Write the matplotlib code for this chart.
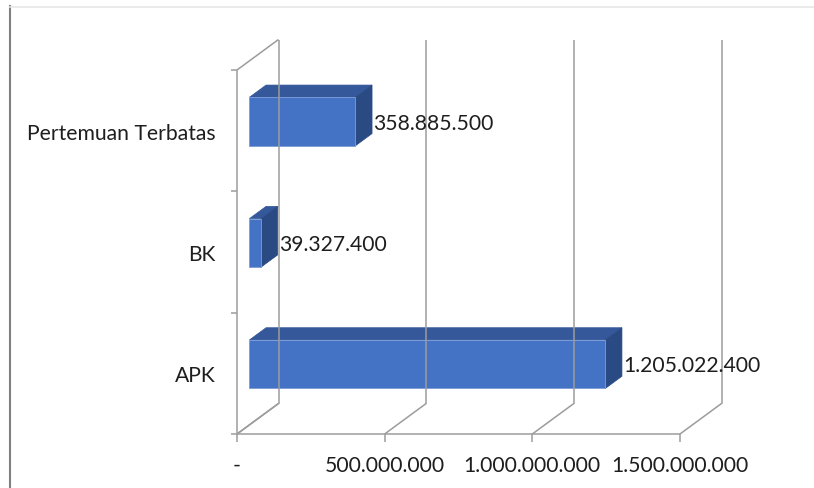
import matplotlib.pyplot as plt
from matplotlib.patches import Polygon

categories = ["APK", "BK", "Pertemuan Terbatas"]
values = [1205022400, 39327400, 358885500]
x_ticks = [0, 500000000, 1000000000, 1500000000]
x_tick_labels = ["-", "500.000.000", "1.000.000.000", "1.500.000.000"]

# simple oblique projection for the 3D bar look
X0, Y0 = 237, 435
PX_PER_UNIT = (680 - 237) / 1.5e9
BAND = (435 - 71) / 3
DEPTH_DX, DEPTH_DY = 41.5, 30.5


def proj(v, c, d):
    return X0 + v * PX_PER_UNIT + d * DEPTH_DX, Y0 - c * BAND - d * DEPTH_DY


def fmt(v):
    return f"{v:,}".replace(",", ".")


plt.rcParams['font.family'] = ['Lato', 'DejaVu Sans']
fig = plt.figure(figsize=(8.14, 4.89), dpi=100)
ax = fig.add_axes([0, 0, 1, 1])
ax.set_xlim(0, 814)
ax.set_ylim(489, 0)
ax.axis('off')

grid = dict(color='#9c9c9c', lw=1.1, solid_capstyle='butt')
n = len(categories)
vmax = x_ticks[-1]
fs = 15.2
txt_col = '#1e1e1e'

# left wall
for a, b in [((0, 0, 0), (0, n, 0)), ((0, n, 0), (0, n, 1)), ((0, 0, 0), (0, 0, 1))]:
    p, q = proj(*a), proj(*b)
    ax.plot([p[0], q[0]], [p[1], q[1]], **grid)

# back wall gridlines, floor lines and ticks
for t in x_ticks:
    p, q = proj(t, 0, 1), proj(t, n, 1)
    ax.plot([p[0], q[0]], [p[1], q[1]], **grid)
    p, q = proj(t, 0, 0), proj(t, 0, 1)
    ax.plot([p[0], q[0]], [p[1], q[1]], **grid)
    ax.plot([p[0], p[0]], [p[1], p[1] + 8], **grid)
p, q = proj(0, 0, 0), proj(vmax, 0, 0)
ax.plot([p[0], q[0]], [p[1], q[1]], **grid)

for i in range(n + 1):
    x, y = proj(0, i, 0)
    ax.plot([x - 6, x], [y, y], **grid)

# bars
c_lo, c_hi = 0.3, 0.7
d_lo, d_hi = 0.3, 0.7
for i, v in enumerate(values):
    c0, c1 = i + c_lo, i + c_hi
    front = [proj(0, c0, d_lo), proj(v, c0, d_lo), proj(v, c1, d_lo), proj(0, c1, d_lo)]
    top = [proj(0, c1, d_lo), proj(v, c1, d_lo), proj(v, c1, d_hi), proj(0, c1, d_hi)]
    side = [proj(v, c0, d_lo), proj(v, c0, d_hi), proj(v, c1, d_hi), proj(v, c1, d_lo)]
    ax.add_patch(Polygon(top, closed=True, facecolor='#34589a', edgecolor='#34589a', lw=0.5))
    ax.add_patch(Polygon(side, closed=True, facecolor='#2a4a84', edgecolor='#2a4a84', lw=0.5))
    ax.add_patch(Polygon(front, closed=True, facecolor='#4472c4', edgecolor='#7d9bd6', lw=0.6))

    lx = proj(v, i + 0.5, d_hi)[0] + 1
    ly = proj(v, i + 0.5, d_lo)[1] + 1
    ax.text(lx, ly, fmt(v), ha='left', va='center', fontsize=fs, color=txt_col)

    cx, cy = proj(0, i + 0.5, 0)
    ax.text(216, cy + 2, categories[i], ha='right', va='center', fontsize=fs, color=txt_col)

for t, lab in zip(x_ticks, x_tick_labels):
    x, y = proj(t, 0, 0)
    ax.text(x, y + 31, lab, ha='center', va='center', fontsize=fs, color=txt_col)

# chart frame edges
ax.plot([9.5, 9.5], [7, 489], color='#808080', lw=1.5)
ax.plot([10, 814], [8, 8], color='#e6e6e6', lw=1.2)

fig.savefig("out.png", dpi=100)
